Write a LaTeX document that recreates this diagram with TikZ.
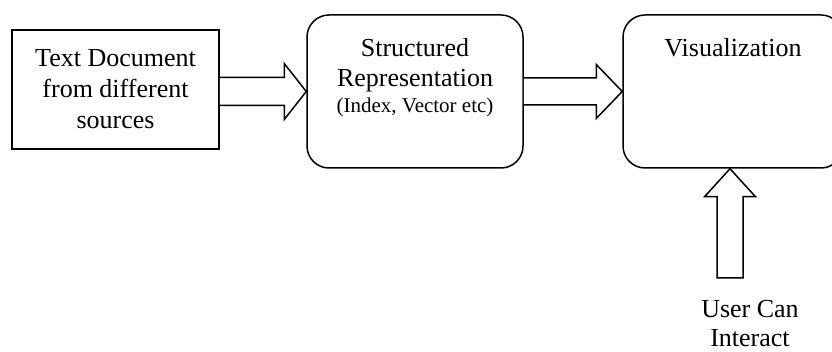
\documentclass[tikz,border=0pt]{standalone}
\usepackage{fontspec}
\setmainfont{Liberation Serif}
\usetikzlibrary{calc}
\begin{document}
\begin{tikzpicture}[x=1pt,y=-1pt,
  box/.style={draw, line width=1.5pt, inner sep=0pt, minimum width=#1},
  rbox/.style={draw, line width=1.5pt, rounded corners=22pt, inner sep=0pt},
  txt/.style={font=\fontsize{26}{31}\selectfont, inner sep=0pt},
  small/.style={font=\fontsize{21}{25}\selectfont, inner sep=0pt},
  barrow/.style={draw, line width=1.5pt, line join=miter, fill=white}]
\clip (0,0) rectangle (832,352);
\useasboundingbox (0,0) rectangle (832,352);
% boxes
\node[box=207pt, minimum height=119pt, txt, align=center] (b1) at (115.5,89.5)
  {Text Document\\from different\\sources};
\node[rbox, minimum width=216pt, minimum height=153pt] (b2) at (415,91.5) {};
\node[rbox, minimum width=220pt, minimum height=153pt] (b3) at (733,91.5) {};
% texts
\node[txt, anchor=base] (t2a) at (415,57) {Structured};
\node[txt, anchor=base] (t2b) at (415,87) {Representation};
\node[small, anchor=base] (t2c) at (415,113) {(Index, Vector etc)};
\node[txt, anchor=base] (t3) at (733,57) {Visualization};
\node[txt, anchor=base] (u1) at (750,318) {User Can};
\node[txt, anchor=base] (u2) at (750,346) {Interact};
\coordinate (ubot) at (730,278);
\coordinate (a1) at (b1.east |- b2.west);
% block arrows
\draw[barrow] ($(a1)+(0,-14)$) -- ($(b2.west)+(-22,-14)$) -- ($(b2.west)+(-22,-28)$)
  -- (b2.west) -- ($(b2.west)+(-22,28)$) -- ($(b2.west)+(-22,14)$) -- ($(a1)+(0,14)$);
\draw[barrow] ($(b2.east)+(0,-13.5)$) -- ($(b3.west)+(-26,-13.5)$) -- ($(b3.west)+(-26,-27)$)
  -- (b3.west) -- ($(b3.west)+(-26,27)$) -- ($(b3.west)+(-26,13.5)$) -- ($(b2.east)+(0,13.5)$);
\coordinate (utip) at (b3.south -| ubot);
\draw[barrow] ($(ubot)+(-13,0)$) -- ($(utip)+(-13,28)$) -- ($(utip)+(-25.5,28)$) -- (utip)
  -- ($(utip)+(25.5,28)$) -- ($(utip)+(13,28)$) -- ($(ubot)+(13,0)$) -- cycle;
\end{tikzpicture}
\end{document}
